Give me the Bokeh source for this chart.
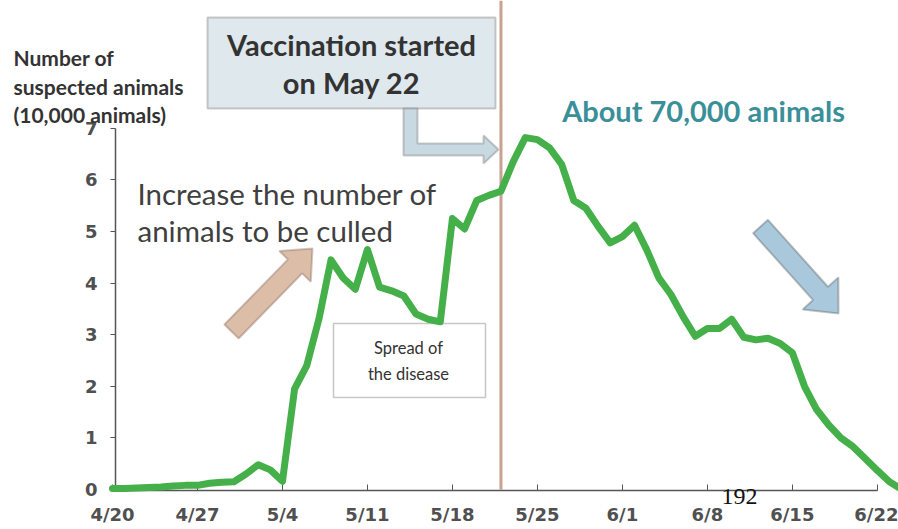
import math
from bokeh.plotting import figure
from bokeh.models import Range1d, Label, BoxAnnotation, PolyAnnotation, FixedTicker
from bokeh.embed import file_html
from bokeh.resources import INLINE

# ---------------- data ----------------
day_index = list(range(66))  # days since 4/20
suspected = [0.02, 0.02, 0.03, 0.04, 0.05, 0.07, 0.08, 0.08, 0.12, 0.14,
             0.15, 0.30, 0.48, 0.38, 0.16, 1.95, 2.40, 3.30, 4.45, 4.10,
             3.88, 4.65, 3.92, 3.85, 3.75, 3.40, 3.30, 3.25, 5.25, 5.05,
             5.60, 5.70, 5.78, 6.35, 6.82, 6.78, 6.62, 6.30, 5.60, 5.45,
             5.10, 4.78, 4.90, 5.12, 4.65, 4.10, 3.78, 3.35, 2.97, 3.12,
             3.12, 3.30, 2.95, 2.90, 2.93, 2.83, 2.65, 2.00, 1.55, 1.25,
             1.00, 0.83, 0.60, 0.37, 0.15, 0.00]
tick_days = [0, 7, 14, 21, 28, 35, 42, 49, 56, 63]
tick_labels = ["4/20", "4/27", "5/4", "5/11", "5/18", "5/25", "6/1", "6/8", "6/15", "6/22"]
y_ticks = [0, 1, 2, 3, 4, 5, 6, 7]
y_max = 7
vaccination_day = 32  # May 22

# ---------------- layout (canvas pixels) ----------------
W, H = 898, 529
X_PX0 = 112.0     # canvas x of day 0
S_X = 12.14       # px per day
Y_PX0 = 489.0     # canvas y of value 0
S_Y = 51.6        # px per unit


def dx(px):
    return (px - X_PX0) / S_X


def dy(py):
    return (Y_PX0 - py) / S_Y


def block_arrow(tail, tip, w, hw, hl):
    tx, ty = tail
    hx, hy = tip
    vx, vy = hx - tx, hy - ty
    n = math.hypot(vx, vy)
    ux, uy = vx / n, vy / n
    px_, py_ = -uy, ux
    bx, by = hx - ux * hl, hy - uy * hl
    pts = [(tx + px_ * w, ty + py_ * w), (bx + px_ * w, by + py_ * w),
           (bx + px_ * hw, by + py_ * hw), (hx, hy),
           (bx - px_ * hw, by - py_ * hw), (bx - px_ * w, by - py_ * w),
           (tx - px_ * w, ty - py_ * w)]
    return [dx(a) for a, b in pts], [dy(b) for a, b in pts]


p = figure(width=W, height=H, output_backend="svg", toolbar_location=None,
           x_range=Range1d(dx(0), dx(W)), y_range=Range1d(dy(H), dy(0)),
           min_border_left=0, min_border_right=0, min_border_top=0,
           min_border_bottom=0)
p.outline_line_color = None
p.grid.visible = False
p.background_fill_color = "white"
p.border_fill_color = "white"

AX_COL = "#555555"
LBL_COL = "#505050"

xa = p.xaxis[0]
xa.fixed_location = dy(490)
xa.ticker = FixedTicker(ticks=tick_days)
xa.major_label_overrides = {d: l for d, l in zip(tick_days, tick_labels)}
xa.bounds = (dx(115), tick_days[-1])
xa.major_tick_in = 6
xa.major_tick_out = 0
xa.minor_tick_line_color = None
xa.axis_line_color = AX_COL
xa.major_tick_line_color = AX_COL
xa.axis_line_width = 1.5
xa.major_label_text_font = "DejaVu Sans"
xa.major_label_text_font_style = "bold"
xa.major_label_text_font_size = "18px"
xa.major_label_text_color = LBL_COL
xa.major_label_standoff = 13

ya = p.yaxis[0]
ya.fixed_location = dx(115)
ya.ticker = FixedTicker(ticks=y_ticks)
ya.bounds = (dy(490), y_max)
ya.major_tick_in = 0
ya.major_tick_out = 5
ya.minor_tick_line_color = None
ya.axis_line_color = AX_COL
ya.major_tick_line_color = AX_COL
ya.axis_line_width = 1.5
ya.major_label_text_font = "DejaVu Sans"
ya.major_label_text_font_style = "bold"
ya.major_label_text_font_size = "18px"
ya.major_label_text_color = LBL_COL
ya.major_label_standoff = 13

# vaccination line (from the axis to the top)
p.segment(x0=[vaccination_day], y0=[0], x1=[vaccination_day], y1=[dy(0)],
          line_color="#c9a192", line_width=3)

# data line
r = p.line(day_index, suspected, line_color="#45b04a", line_width=7,
           line_join="round", line_cap="round")
r.level = "overlay"

# vaccination box + elbow arrow
p.add_layout(BoxAnnotation(left=dx(207), right=dx(495), top=dy(17), bottom=dy(108),
                           fill_color="#dfe8ec", fill_alpha=1.0,
                           line_color="#555555", line_width=2))
elbow = [(403, 108), (417, 108), (417, 143), (483, 143), (483, 135), (498, 149),
         (483, 163), (483, 155), (403, 155)]
p.add_layout(PolyAnnotation(xs=[dx(a) for a, b in elbow], ys=[dy(b) for a, b in elbow],
                            fill_color="#c9d9e1", fill_alpha=1.0,
                            line_color="#555555", line_width=2))

# culling arrow (brown) and decline arrow (blue)
bx_, by_ = block_arrow((231, 331), (312, 248), 10, 22, 25)
p.add_layout(PolyAnnotation(xs=bx_, ys=by_, fill_color="#dcbea8", fill_alpha=1.0,
                            line_color="#6b4a3e", line_width=2))
bx2, by2 = block_arrow((760, 226), (838, 313), 10, 24, 27)
p.add_layout(PolyAnnotation(xs=bx2, ys=by2, fill_color="#a9c8dc", fill_alpha=1.0,
                            line_color="#3a3a3a", line_width=2))

# spread box
p.add_layout(BoxAnnotation(left=dx(333), right=dx(485), top=dy(323), bottom=dy(397),
                           fill_color="white", fill_alpha=1.0,
                           line_color="#444444", line_width=1.5))


def lab(txt, px, py, size, color="#333333", style="normal", align="left",
        font="Lato"):
    p.add_layout(Label(x=dx(px), y=dy(py), text=txt, text_font=font,
                       text_font_size=size, text_font_style=style,
                       text_color=color, text_align=align, text_baseline="middle"))


lab("Vaccination started", 351, 44, "29px", "#333333", "bold", "center")
lab("on May 22", 351, 82, "29px", "#333333", "bold", "center")
lab("About 70,000 animals", 703, 110, "29px", "#3a8f99", "bold", "center")
lab("Increase the number of", 137, 193, "29.5px", "#404040", "normal", "left")
lab("animals to be culled", 137, 230, "29.5px", "#404040", "normal", "left")
lab("Spread of", 408, 347, "16.5px", "#333333", "normal", "center")
lab("the disease", 408, 373, "16.5px", "#333333", "normal", "center")
lab("Number of", 13, 57, "21px", "#333333", "bold", "left")
lab("suspected animals", 13, 86, "21px", "#333333", "bold", "left")
lab("(10,000 animals)", 13, 114, "21px", "#333333", "bold", "left")
lab("192", 739, 496, "24px", "#111111", "normal", "center", "Liberation Serif")

open("out.html", "w").write(file_html(p, INLINE))
